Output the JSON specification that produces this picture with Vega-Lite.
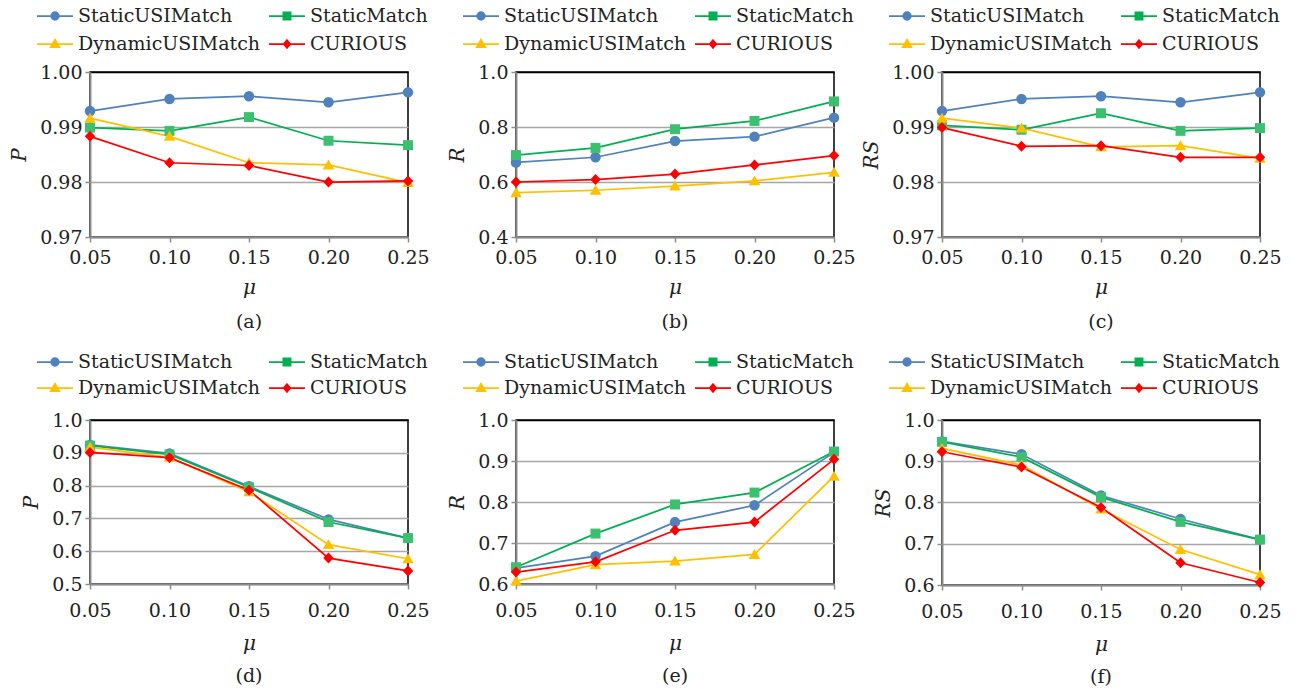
{
  "$schema": "https://vega.github.io/schema/vega-lite/v6.json",
  "background": "white",
  "padding": {"left": 8, "top": 4, "right": 5, "bottom": 5},
  "datasets": {
    "a": [
      {"mu": 0.05, "method": "StaticUSIMatch", "value": 0.9929}, {"mu": 0.10, "method": "StaticUSIMatch", "value": 0.9951}, {"mu": 0.15, "method": "StaticUSIMatch", "value": 0.9956}, {"mu": 0.20, "method": "StaticUSIMatch", "value": 0.9945}, {"mu": 0.25, "method": "StaticUSIMatch", "value": 0.9963},
      {"mu": 0.05, "method": "StaticMatch", "value": 0.9899}, {"mu": 0.10, "method": "StaticMatch", "value": 0.9893}, {"mu": 0.15, "method": "StaticMatch", "value": 0.9918}, {"mu": 0.20, "method": "StaticMatch", "value": 0.9875}, {"mu": 0.25, "method": "StaticMatch", "value": 0.9867},
      {"mu": 0.05, "method": "DynamicUSIMatch", "value": 0.9916}, {"mu": 0.10, "method": "DynamicUSIMatch", "value": 0.9883}, {"mu": 0.15, "method": "DynamicUSIMatch", "value": 0.9835}, {"mu": 0.20, "method": "DynamicUSIMatch", "value": 0.9831}, {"mu": 0.25, "method": "DynamicUSIMatch", "value": 0.9799},
      {"mu": 0.05, "method": "CURIOUS", "value": 0.9883}, {"mu": 0.10, "method": "CURIOUS", "value": 0.9835}, {"mu": 0.15, "method": "CURIOUS", "value": 0.9830}, {"mu": 0.20, "method": "CURIOUS", "value": 0.9800}, {"mu": 0.25, "method": "CURIOUS", "value": 0.9802}
    ],
    "b": [
      {"mu": 0.05, "method": "StaticUSIMatch", "value": 0.671}, {"mu": 0.10, "method": "StaticUSIMatch", "value": 0.690}, {"mu": 0.15, "method": "StaticUSIMatch", "value": 0.749}, {"mu": 0.20, "method": "StaticUSIMatch", "value": 0.765}, {"mu": 0.25, "method": "StaticUSIMatch", "value": 0.834},
      {"mu": 0.05, "method": "StaticMatch", "value": 0.698}, {"mu": 0.10, "method": "StaticMatch", "value": 0.724}, {"mu": 0.15, "method": "StaticMatch", "value": 0.792}, {"mu": 0.20, "method": "StaticMatch", "value": 0.822}, {"mu": 0.25, "method": "StaticMatch", "value": 0.893},
      {"mu": 0.05, "method": "DynamicUSIMatch", "value": 0.561}, {"mu": 0.10, "method": "DynamicUSIMatch", "value": 0.570}, {"mu": 0.15, "method": "DynamicUSIMatch", "value": 0.585}, {"mu": 0.20, "method": "DynamicUSIMatch", "value": 0.604}, {"mu": 0.25, "method": "DynamicUSIMatch", "value": 0.635},
      {"mu": 0.05, "method": "CURIOUS", "value": 0.600}, {"mu": 0.10, "method": "CURIOUS", "value": 0.609}, {"mu": 0.15, "method": "CURIOUS", "value": 0.629}, {"mu": 0.20, "method": "CURIOUS", "value": 0.662}, {"mu": 0.25, "method": "CURIOUS", "value": 0.696}
    ],
    "c": [
      {"mu": 0.05, "method": "StaticUSIMatch", "value": 0.9929}, {"mu": 0.10, "method": "StaticUSIMatch", "value": 0.9951}, {"mu": 0.15, "method": "StaticUSIMatch", "value": 0.9956}, {"mu": 0.20, "method": "StaticUSIMatch", "value": 0.9945}, {"mu": 0.25, "method": "StaticUSIMatch", "value": 0.9963},
      {"mu": 0.05, "method": "StaticMatch", "value": 0.9903}, {"mu": 0.10, "method": "StaticMatch", "value": 0.9895}, {"mu": 0.15, "method": "StaticMatch", "value": 0.9925}, {"mu": 0.20, "method": "StaticMatch", "value": 0.9893}, {"mu": 0.25, "method": "StaticMatch", "value": 0.9898},
      {"mu": 0.05, "method": "DynamicUSIMatch", "value": 0.9916}, {"mu": 0.10, "method": "DynamicUSIMatch", "value": 0.9898}, {"mu": 0.15, "method": "DynamicUSIMatch", "value": 0.9864}, {"mu": 0.20, "method": "DynamicUSIMatch", "value": 0.9866}, {"mu": 0.25, "method": "DynamicUSIMatch", "value": 0.9843},
      {"mu": 0.05, "method": "CURIOUS", "value": 0.9899}, {"mu": 0.10, "method": "CURIOUS", "value": 0.9865}, {"mu": 0.15, "method": "CURIOUS", "value": 0.9866}, {"mu": 0.20, "method": "CURIOUS", "value": 0.9845}, {"mu": 0.25, "method": "CURIOUS", "value": 0.9845}
    ],
    "d": [
      {"mu": 0.05, "method": "StaticUSIMatch", "value": 0.924}, {"mu": 0.10, "method": "StaticUSIMatch", "value": 0.898}, {"mu": 0.15, "method": "StaticUSIMatch", "value": 0.798}, {"mu": 0.20, "method": "StaticUSIMatch", "value": 0.697}, {"mu": 0.25, "method": "StaticUSIMatch", "value": 0.640},
      {"mu": 0.05, "method": "StaticMatch", "value": 0.922}, {"mu": 0.10, "method": "StaticMatch", "value": 0.895}, {"mu": 0.15, "method": "StaticMatch", "value": 0.795}, {"mu": 0.20, "method": "StaticMatch", "value": 0.689}, {"mu": 0.25, "method": "StaticMatch", "value": 0.640},
      {"mu": 0.05, "method": "DynamicUSIMatch", "value": 0.917}, {"mu": 0.10, "method": "DynamicUSIMatch", "value": 0.886}, {"mu": 0.15, "method": "DynamicUSIMatch", "value": 0.781}, {"mu": 0.20, "method": "DynamicUSIMatch", "value": 0.620}, {"mu": 0.25, "method": "DynamicUSIMatch", "value": 0.577},
      {"mu": 0.05, "method": "CURIOUS", "value": 0.901}, {"mu": 0.10, "method": "CURIOUS", "value": 0.885}, {"mu": 0.15, "method": "CURIOUS", "value": 0.786}, {"mu": 0.20, "method": "CURIOUS", "value": 0.579}, {"mu": 0.25, "method": "CURIOUS", "value": 0.540}
    ],
    "e": [
      {"mu": 0.05, "method": "StaticUSIMatch", "value": 0.639}, {"mu": 0.10, "method": "StaticUSIMatch", "value": 0.668}, {"mu": 0.15, "method": "StaticUSIMatch", "value": 0.751}, {"mu": 0.20, "method": "StaticUSIMatch", "value": 0.792}, {"mu": 0.25, "method": "StaticUSIMatch", "value": 0.921},
      {"mu": 0.05, "method": "StaticMatch", "value": 0.641}, {"mu": 0.10, "method": "StaticMatch", "value": 0.723}, {"mu": 0.15, "method": "StaticMatch", "value": 0.794}, {"mu": 0.20, "method": "StaticMatch", "value": 0.823}, {"mu": 0.25, "method": "StaticMatch", "value": 0.923},
      {"mu": 0.05, "method": "DynamicUSIMatch", "value": 0.607}, {"mu": 0.10, "method": "DynamicUSIMatch", "value": 0.647}, {"mu": 0.15, "method": "DynamicUSIMatch", "value": 0.656}, {"mu": 0.20, "method": "DynamicUSIMatch", "value": 0.672}, {"mu": 0.25, "method": "DynamicUSIMatch", "value": 0.863},
      {"mu": 0.05, "method": "CURIOUS", "value": 0.629}, {"mu": 0.10, "method": "CURIOUS", "value": 0.654}, {"mu": 0.15, "method": "CURIOUS", "value": 0.731}, {"mu": 0.20, "method": "CURIOUS", "value": 0.751}, {"mu": 0.25, "method": "CURIOUS", "value": 0.904}
    ],
    "f": [
      {"mu": 0.05, "method": "StaticUSIMatch", "value": 0.948}, {"mu": 0.10, "method": "StaticUSIMatch", "value": 0.917}, {"mu": 0.15, "method": "StaticUSIMatch", "value": 0.817}, {"mu": 0.20, "method": "StaticUSIMatch", "value": 0.760}, {"mu": 0.25, "method": "StaticUSIMatch", "value": 0.710},
      {"mu": 0.05, "method": "StaticMatch", "value": 0.947}, {"mu": 0.10, "method": "StaticMatch", "value": 0.910}, {"mu": 0.15, "method": "StaticMatch", "value": 0.813}, {"mu": 0.20, "method": "StaticMatch", "value": 0.753}, {"mu": 0.25, "method": "StaticMatch", "value": 0.710},
      {"mu": 0.05, "method": "DynamicUSIMatch", "value": 0.931}, {"mu": 0.10, "method": "DynamicUSIMatch", "value": 0.891}, {"mu": 0.15, "method": "DynamicUSIMatch", "value": 0.784}, {"mu": 0.20, "method": "DynamicUSIMatch", "value": 0.686}, {"mu": 0.25, "method": "DynamicUSIMatch", "value": 0.625},
      {"mu": 0.05, "method": "CURIOUS", "value": 0.923}, {"mu": 0.10, "method": "CURIOUS", "value": 0.886}, {"mu": 0.15, "method": "CURIOUS", "value": 0.788}, {"mu": 0.20, "method": "CURIOUS", "value": 0.654}, {"mu": 0.25, "method": "CURIOUS", "value": 0.606}
    ]
  },
  "columns": 3,
  "bounds": "flush",
  "spacing": {"row": 183, "column": 108},
  "resolve": {
    "scale": {"x": "independent", "y": "independent", "color": "independent", "fill": "independent", "stroke": "independent", "shape": "independent"},
    "legend": {"color": "independent", "fill": "independent", "stroke": "independent", "shape": "independent"}
  },
  "concat": [
    {
      "width": 318, "height": 165,
      "data": {"name": "a"},
      "title": {"text": "(a)"},
      "resolve": {"scale": {"color": "independent", "fill": "independent", "stroke": "independent", "shape": "independent"}},
      "layer": [
        {"mark": {"type": "line", "strokeWidth": 1.75},
         "encoding": {
           "x": {"field": "mu", "type": "quantitative", "scale": {"domain": [0.05, 0.25], "nice": false, "zero": false}, "axis": {"title": "μ", "values": [0.05, 0.1, 0.15, 0.2, 0.25], "format": ".2f", "grid": false}},
           "y": {"field": "value", "type": "quantitative", "scale": {"domain": [0.97, 1.0], "nice": false, "zero": false}, "axis": {"title": "P", "values": [0.97, 0.98, 0.99, 1.0], "format": ".2f"}},
           "color": {"field": "method", "type": "nominal", "scale": {"domain": ["CURIOUS", "DynamicUSIMatch", "StaticMatch", "StaticUSIMatch"], "range": ["#FF0000", "#FFC000", "#00B050", "#4F81BD"]}, "legend": null}
         }},
        {"mark": {"type": "point", "filled": true, "size": 110, "opacity": 1},
         "encoding": {
           "x": {"field": "mu", "type": "quantitative"},
           "y": {"field": "value", "type": "quantitative"},
           "fill": {"field": "method", "type": "nominal", "scale": {"domain": ["CURIOUS", "DynamicUSIMatch", "StaticMatch", "StaticUSIMatch"], "range": ["#FF0000", "#FFC000", "#3CC070", "#4F81BD"]}, "legend": null},
           "shape": {"field": "method", "type": "nominal", "scale": {"domain": ["CURIOUS", "DynamicUSIMatch", "StaticMatch", "StaticUSIMatch"], "range": ["M0,-1.05L1,0L0,1.05L-1,0Z", "M0,-1.05L1.1,0.85L-1.1,0.85Z", "M-0.95,-0.95H0.95V0.95H-0.95Z", "circle"]}, "legend": null}
         }},
        {"mark": {"type": "point", "filled": true, "opacity": 0, "strokeWidth": 1.75},
         "encoding": {
           "x": {"field": "mu", "type": "quantitative"},
           "y": {"field": "value", "type": "quantitative"},
           "shape": {"field": "method", "type": "nominal", "scale": {"domain": ["StaticUSIMatch", "StaticMatch", "DynamicUSIMatch", "CURIOUS"], "range": ["M-1.8,0H1.8M-0.38,0A0.38,0.38,0,1,1,0.38,0A0.38,0.38,0,1,1,-0.38,0Z", "M-1.8,0H1.8M-0.36,-0.36H0.36V0.36H-0.36Z", "M-1.8,0H1.8M0,-0.42L0.42,0.3L-0.42,0.3Z", "M-1.8,0H1.8M0,-0.38L0.32,0L0,0.38L-0.32,0Z"]}, "legend": {"title": null}},
           "fill": {"field": "method", "type": "nominal", "scale": {"domain": ["StaticUSIMatch", "StaticMatch", "DynamicUSIMatch", "CURIOUS"], "range": ["#4F81BD", "#00B050", "#FFC000", "#FF0000"]}, "legend": {"title": null}},
           "stroke": {"field": "method", "type": "nominal", "scale": {"domain": ["StaticUSIMatch", "StaticMatch", "DynamicUSIMatch", "CURIOUS"], "range": ["#4F81BD", "#00B050", "#FFC000", "#FF0000"]}, "legend": {"title": null}}
         }}
      ]
    },
    {
      "width": 318, "height": 165,
      "data": {"name": "b"},
      "title": {"text": "(b)"},
      "resolve": {"scale": {"color": "independent", "fill": "independent", "stroke": "independent", "shape": "independent"}},
      "layer": [
        {"mark": {"type": "line", "strokeWidth": 1.75},
         "encoding": {
           "x": {"field": "mu", "type": "quantitative", "scale": {"domain": [0.05, 0.25], "nice": false, "zero": false}, "axis": {"title": "μ", "values": [0.05, 0.1, 0.15, 0.2, 0.25], "format": ".2f", "grid": false}},
           "y": {"field": "value", "type": "quantitative", "scale": {"domain": [0.4, 1.0], "nice": false, "zero": false}, "axis": {"title": "R", "values": [0.4, 0.6, 0.8, 1.0], "format": ".1f"}},
           "color": {"field": "method", "type": "nominal", "scale": {"domain": ["CURIOUS", "DynamicUSIMatch", "StaticMatch", "StaticUSIMatch"], "range": ["#FF0000", "#FFC000", "#00B050", "#4F81BD"]}, "legend": null}
         }},
        {"mark": {"type": "point", "filled": true, "size": 110, "opacity": 1},
         "encoding": {
           "x": {"field": "mu", "type": "quantitative"},
           "y": {"field": "value", "type": "quantitative"},
           "fill": {"field": "method", "type": "nominal", "scale": {"domain": ["CURIOUS", "DynamicUSIMatch", "StaticMatch", "StaticUSIMatch"], "range": ["#FF0000", "#FFC000", "#3CC070", "#4F81BD"]}, "legend": null},
           "shape": {"field": "method", "type": "nominal", "scale": {"domain": ["CURIOUS", "DynamicUSIMatch", "StaticMatch", "StaticUSIMatch"], "range": ["M0,-1.05L1,0L0,1.05L-1,0Z", "M0,-1.05L1.1,0.85L-1.1,0.85Z", "M-0.95,-0.95H0.95V0.95H-0.95Z", "circle"]}, "legend": null}
         }},
        {"mark": {"type": "point", "filled": true, "opacity": 0, "strokeWidth": 1.75},
         "encoding": {
           "x": {"field": "mu", "type": "quantitative"},
           "y": {"field": "value", "type": "quantitative"},
           "shape": {"field": "method", "type": "nominal", "scale": {"domain": ["StaticUSIMatch", "StaticMatch", "DynamicUSIMatch", "CURIOUS"], "range": ["M-1.8,0H1.8M-0.38,0A0.38,0.38,0,1,1,0.38,0A0.38,0.38,0,1,1,-0.38,0Z", "M-1.8,0H1.8M-0.36,-0.36H0.36V0.36H-0.36Z", "M-1.8,0H1.8M0,-0.42L0.42,0.3L-0.42,0.3Z", "M-1.8,0H1.8M0,-0.38L0.32,0L0,0.38L-0.32,0Z"]}, "legend": {"title": null}},
           "fill": {"field": "method", "type": "nominal", "scale": {"domain": ["StaticUSIMatch", "StaticMatch", "DynamicUSIMatch", "CURIOUS"], "range": ["#4F81BD", "#00B050", "#FFC000", "#FF0000"]}, "legend": {"title": null}},
           "stroke": {"field": "method", "type": "nominal", "scale": {"domain": ["StaticUSIMatch", "StaticMatch", "DynamicUSIMatch", "CURIOUS"], "range": ["#4F81BD", "#00B050", "#FFC000", "#FF0000"]}, "legend": {"title": null}}
         }}
      ]
    },
    {
      "width": 318, "height": 165,
      "data": {"name": "c"},
      "title": {"text": "(c)"},
      "resolve": {"scale": {"color": "independent", "fill": "independent", "stroke": "independent", "shape": "independent"}},
      "layer": [
        {"mark": {"type": "line", "strokeWidth": 1.75},
         "encoding": {
           "x": {"field": "mu", "type": "quantitative", "scale": {"domain": [0.05, 0.25], "nice": false, "zero": false}, "axis": {"title": "μ", "values": [0.05, 0.1, 0.15, 0.2, 0.25], "format": ".2f", "grid": false}},
           "y": {"field": "value", "type": "quantitative", "scale": {"domain": [0.97, 1.0], "nice": false, "zero": false}, "axis": {"title": "RS", "values": [0.97, 0.98, 0.99, 1.0], "format": ".2f"}},
           "color": {"field": "method", "type": "nominal", "scale": {"domain": ["CURIOUS", "DynamicUSIMatch", "StaticMatch", "StaticUSIMatch"], "range": ["#FF0000", "#FFC000", "#00B050", "#4F81BD"]}, "legend": null}
         }},
        {"mark": {"type": "point", "filled": true, "size": 110, "opacity": 1},
         "encoding": {
           "x": {"field": "mu", "type": "quantitative"},
           "y": {"field": "value", "type": "quantitative"},
           "fill": {"field": "method", "type": "nominal", "scale": {"domain": ["CURIOUS", "DynamicUSIMatch", "StaticMatch", "StaticUSIMatch"], "range": ["#FF0000", "#FFC000", "#3CC070", "#4F81BD"]}, "legend": null},
           "shape": {"field": "method", "type": "nominal", "scale": {"domain": ["CURIOUS", "DynamicUSIMatch", "StaticMatch", "StaticUSIMatch"], "range": ["M0,-1.05L1,0L0,1.05L-1,0Z", "M0,-1.05L1.1,0.85L-1.1,0.85Z", "M-0.95,-0.95H0.95V0.95H-0.95Z", "circle"]}, "legend": null}
         }},
        {"mark": {"type": "point", "filled": true, "opacity": 0, "strokeWidth": 1.75},
         "encoding": {
           "x": {"field": "mu", "type": "quantitative"},
           "y": {"field": "value", "type": "quantitative"},
           "shape": {"field": "method", "type": "nominal", "scale": {"domain": ["StaticUSIMatch", "StaticMatch", "DynamicUSIMatch", "CURIOUS"], "range": ["M-1.8,0H1.8M-0.38,0A0.38,0.38,0,1,1,0.38,0A0.38,0.38,0,1,1,-0.38,0Z", "M-1.8,0H1.8M-0.36,-0.36H0.36V0.36H-0.36Z", "M-1.8,0H1.8M0,-0.42L0.42,0.3L-0.42,0.3Z", "M-1.8,0H1.8M0,-0.38L0.32,0L0,0.38L-0.32,0Z"]}, "legend": {"title": null}},
           "fill": {"field": "method", "type": "nominal", "scale": {"domain": ["StaticUSIMatch", "StaticMatch", "DynamicUSIMatch", "CURIOUS"], "range": ["#4F81BD", "#00B050", "#FFC000", "#FF0000"]}, "legend": {"title": null}},
           "stroke": {"field": "method", "type": "nominal", "scale": {"domain": ["StaticUSIMatch", "StaticMatch", "DynamicUSIMatch", "CURIOUS"], "range": ["#4F81BD", "#00B050", "#FFC000", "#FF0000"]}, "legend": {"title": null}}
         }}
      ]
    },
    {
      "width": 318, "height": 164,
      "data": {"name": "d"},
      "title": {"text": "(d)", "offset": 14},
      "resolve": {"scale": {"color": "independent", "fill": "independent", "stroke": "independent", "shape": "independent"}},
      "layer": [
        {"mark": {"type": "line", "strokeWidth": 1.75},
         "encoding": {
           "x": {"field": "mu", "type": "quantitative", "scale": {"domain": [0.05, 0.25], "nice": false, "zero": false}, "axis": {"title": "μ", "values": [0.05, 0.1, 0.15, 0.2, 0.25], "format": ".2f", "grid": false, "labelPadding": 12, "titlePadding": 13}},
           "y": {"field": "value", "type": "quantitative", "scale": {"domain": [0.5, 1.0], "nice": false, "zero": false}, "axis": {"title": "P", "values": [0.5, 0.6, 0.7, 0.8, 0.9, 1.0], "format": ".1f"}},
           "color": {"field": "method", "type": "nominal", "scale": {"domain": ["CURIOUS", "DynamicUSIMatch", "StaticMatch", "StaticUSIMatch"], "range": ["#FF0000", "#FFC000", "#00B050", "#4F81BD"]}, "legend": null}
         }},
        {"mark": {"type": "point", "filled": true, "size": 110, "opacity": 1},
         "encoding": {
           "x": {"field": "mu", "type": "quantitative"},
           "y": {"field": "value", "type": "quantitative"},
           "fill": {"field": "method", "type": "nominal", "scale": {"domain": ["CURIOUS", "DynamicUSIMatch", "StaticMatch", "StaticUSIMatch"], "range": ["#FF0000", "#FFC000", "#3CC070", "#4F81BD"]}, "legend": null},
           "shape": {"field": "method", "type": "nominal", "scale": {"domain": ["CURIOUS", "DynamicUSIMatch", "StaticMatch", "StaticUSIMatch"], "range": ["M0,-1.05L1,0L0,1.05L-1,0Z", "M0,-1.05L1.1,0.85L-1.1,0.85Z", "M-0.95,-0.95H0.95V0.95H-0.95Z", "circle"]}, "legend": null}
         }},
        {"mark": {"type": "point", "filled": true, "opacity": 0, "strokeWidth": 1.75},
         "encoding": {
           "x": {"field": "mu", "type": "quantitative"},
           "y": {"field": "value", "type": "quantitative"},
           "shape": {"field": "method", "type": "nominal", "scale": {"domain": ["StaticUSIMatch", "StaticMatch", "DynamicUSIMatch", "CURIOUS"], "range": ["M-1.8,0H1.8M-0.38,0A0.38,0.38,0,1,1,0.38,0A0.38,0.38,0,1,1,-0.38,0Z", "M-1.8,0H1.8M-0.36,-0.36H0.36V0.36H-0.36Z", "M-1.8,0H1.8M0,-0.42L0.42,0.3L-0.42,0.3Z", "M-1.8,0H1.8M0,-0.38L0.32,0L0,0.38L-0.32,0Z"]}, "legend": {"title": null, "rowPadding": 5, "legendY": -69}},
           "fill": {"field": "method", "type": "nominal", "scale": {"domain": ["StaticUSIMatch", "StaticMatch", "DynamicUSIMatch", "CURIOUS"], "range": ["#4F81BD", "#00B050", "#FFC000", "#FF0000"]}, "legend": {"title": null, "rowPadding": 5, "legendY": -69}},
           "stroke": {"field": "method", "type": "nominal", "scale": {"domain": ["StaticUSIMatch", "StaticMatch", "DynamicUSIMatch", "CURIOUS"], "range": ["#4F81BD", "#00B050", "#FFC000", "#FF0000"]}, "legend": {"title": null, "rowPadding": 5, "legendY": -69}}
         }}
      ]
    },
    {
      "width": 318, "height": 164,
      "data": {"name": "e"},
      "title": {"text": "(e)", "offset": 14},
      "resolve": {"scale": {"color": "independent", "fill": "independent", "stroke": "independent", "shape": "independent"}},
      "layer": [
        {"mark": {"type": "line", "strokeWidth": 1.75},
         "encoding": {
           "x": {"field": "mu", "type": "quantitative", "scale": {"domain": [0.05, 0.25], "nice": false, "zero": false}, "axis": {"title": "μ", "values": [0.05, 0.1, 0.15, 0.2, 0.25], "format": ".2f", "grid": false, "labelPadding": 12, "titlePadding": 13}},
           "y": {"field": "value", "type": "quantitative", "scale": {"domain": [0.6, 1.0], "nice": false, "zero": false}, "axis": {"title": "R", "values": [0.6, 0.7, 0.8, 0.9, 1.0], "format": ".1f"}},
           "color": {"field": "method", "type": "nominal", "scale": {"domain": ["CURIOUS", "DynamicUSIMatch", "StaticMatch", "StaticUSIMatch"], "range": ["#FF0000", "#FFC000", "#00B050", "#4F81BD"]}, "legend": null}
         }},
        {"mark": {"type": "point", "filled": true, "size": 110, "opacity": 1},
         "encoding": {
           "x": {"field": "mu", "type": "quantitative"},
           "y": {"field": "value", "type": "quantitative"},
           "fill": {"field": "method", "type": "nominal", "scale": {"domain": ["CURIOUS", "DynamicUSIMatch", "StaticMatch", "StaticUSIMatch"], "range": ["#FF0000", "#FFC000", "#3CC070", "#4F81BD"]}, "legend": null},
           "shape": {"field": "method", "type": "nominal", "scale": {"domain": ["CURIOUS", "DynamicUSIMatch", "StaticMatch", "StaticUSIMatch"], "range": ["M0,-1.05L1,0L0,1.05L-1,0Z", "M0,-1.05L1.1,0.85L-1.1,0.85Z", "M-0.95,-0.95H0.95V0.95H-0.95Z", "circle"]}, "legend": null}
         }},
        {"mark": {"type": "point", "filled": true, "opacity": 0, "strokeWidth": 1.75},
         "encoding": {
           "x": {"field": "mu", "type": "quantitative"},
           "y": {"field": "value", "type": "quantitative"},
           "shape": {"field": "method", "type": "nominal", "scale": {"domain": ["StaticUSIMatch", "StaticMatch", "DynamicUSIMatch", "CURIOUS"], "range": ["M-1.8,0H1.8M-0.38,0A0.38,0.38,0,1,1,0.38,0A0.38,0.38,0,1,1,-0.38,0Z", "M-1.8,0H1.8M-0.36,-0.36H0.36V0.36H-0.36Z", "M-1.8,0H1.8M0,-0.42L0.42,0.3L-0.42,0.3Z", "M-1.8,0H1.8M0,-0.38L0.32,0L0,0.38L-0.32,0Z"]}, "legend": {"title": null, "rowPadding": 5, "legendY": -69}},
           "fill": {"field": "method", "type": "nominal", "scale": {"domain": ["StaticUSIMatch", "StaticMatch", "DynamicUSIMatch", "CURIOUS"], "range": ["#4F81BD", "#00B050", "#FFC000", "#FF0000"]}, "legend": {"title": null, "rowPadding": 5, "legendY": -69}},
           "stroke": {"field": "method", "type": "nominal", "scale": {"domain": ["StaticUSIMatch", "StaticMatch", "DynamicUSIMatch", "CURIOUS"], "range": ["#4F81BD", "#00B050", "#FFC000", "#FF0000"]}, "legend": {"title": null, "rowPadding": 5, "legendY": -69}}
         }}
      ]
    },
    {
      "width": 318, "height": 165,
      "data": {"name": "f"},
      "title": {"text": "(f)", "offset": 14},
      "resolve": {"scale": {"color": "independent", "fill": "independent", "stroke": "independent", "shape": "independent"}},
      "layer": [
        {"mark": {"type": "line", "strokeWidth": 1.75},
         "encoding": {
           "x": {"field": "mu", "type": "quantitative", "scale": {"domain": [0.05, 0.25], "nice": false, "zero": false}, "axis": {"title": "μ", "values": [0.05, 0.1, 0.15, 0.2, 0.25], "format": ".2f", "grid": false, "labelPadding": 12, "titlePadding": 13}},
           "y": {"field": "value", "type": "quantitative", "scale": {"domain": [0.6, 1.0], "nice": false, "zero": false}, "axis": {"title": "RS", "values": [0.6, 0.7, 0.8, 0.9, 1.0], "format": ".1f"}},
           "color": {"field": "method", "type": "nominal", "scale": {"domain": ["CURIOUS", "DynamicUSIMatch", "StaticMatch", "StaticUSIMatch"], "range": ["#FF0000", "#FFC000", "#00B050", "#4F81BD"]}, "legend": null}
         }},
        {"mark": {"type": "point", "filled": true, "size": 110, "opacity": 1},
         "encoding": {
           "x": {"field": "mu", "type": "quantitative"},
           "y": {"field": "value", "type": "quantitative"},
           "fill": {"field": "method", "type": "nominal", "scale": {"domain": ["CURIOUS", "DynamicUSIMatch", "StaticMatch", "StaticUSIMatch"], "range": ["#FF0000", "#FFC000", "#3CC070", "#4F81BD"]}, "legend": null},
           "shape": {"field": "method", "type": "nominal", "scale": {"domain": ["CURIOUS", "DynamicUSIMatch", "StaticMatch", "StaticUSIMatch"], "range": ["M0,-1.05L1,0L0,1.05L-1,0Z", "M0,-1.05L1.1,0.85L-1.1,0.85Z", "M-0.95,-0.95H0.95V0.95H-0.95Z", "circle"]}, "legend": null}
         }},
        {"mark": {"type": "point", "filled": true, "opacity": 0, "strokeWidth": 1.75},
         "encoding": {
           "x": {"field": "mu", "type": "quantitative"},
           "y": {"field": "value", "type": "quantitative"},
           "shape": {"field": "method", "type": "nominal", "scale": {"domain": ["StaticUSIMatch", "StaticMatch", "DynamicUSIMatch", "CURIOUS"], "range": ["M-1.8,0H1.8M-0.38,0A0.38,0.38,0,1,1,0.38,0A0.38,0.38,0,1,1,-0.38,0Z", "M-1.8,0H1.8M-0.36,-0.36H0.36V0.36H-0.36Z", "M-1.8,0H1.8M0,-0.42L0.42,0.3L-0.42,0.3Z", "M-1.8,0H1.8M0,-0.38L0.32,0L0,0.38L-0.32,0Z"]}, "legend": {"title": null, "rowPadding": 5, "legendY": -69}},
           "fill": {"field": "method", "type": "nominal", "scale": {"domain": ["StaticUSIMatch", "StaticMatch", "DynamicUSIMatch", "CURIOUS"], "range": ["#4F81BD", "#00B050", "#FFC000", "#FF0000"]}, "legend": {"title": null, "rowPadding": 5, "legendY": -69}},
           "stroke": {"field": "method", "type": "nominal", "scale": {"domain": ["StaticUSIMatch", "StaticMatch", "DynamicUSIMatch", "CURIOUS"], "range": ["#4F81BD", "#00B050", "#FFC000", "#FF0000"]}, "legend": {"title": null, "rowPadding": 5, "legendY": -69}}
         }}
      ]
    }
  ],
  "config": {
    "font": "DejaVu Serif",
    "view": {"stroke": "#000000", "strokeWidth": 1.5},
    "axis": {
      "labelFont": "DejaVu Serif", "labelFontSize": 19, "labelColor": "#222222",
      "titleFont": "DejaVu Serif", "titleFontSize": 20, "titleFontStyle": "italic", "titleFontWeight": "normal", "titleColor": "#222222",
      "domainColor": "#8c8c8c", "domainWidth": 2,
      "tickColor": "#8c8c8c", "tickWidth": 1.5, "tickSize": 5,
      "gridColor": {"condition": {"test": "datum.value >= 0.9999", "value": "#000000"}, "value": "#a6a6a6"},
      "gridWidth": 1.5, "tickCount": 12, "labelOverlap": false
    },
    "axisX": {"labelPadding": 6, "titlePadding": 10, "labelFlush": false},
    "axisY": {"labelPadding": 3, "titlePadding": 10},
    "legend": {
      "orient": "none", "legendX": -46, "legendY": -67,
      "direction": "horizontal", "columns": 2,
      "labelFont": "DejaVu Serif", "labelFontSize": 19, "labelColor": "#222222", "labelLimit": 400,
      "symbolSize": 400, "symbolStrokeWidth": 1.75, "symbolOpacity": 1, "labelOffset": 12,
      "rowPadding": 7, "columnPadding": 4, "padding": 0
    },
    "title": {"font": "DejaVu Serif", "fontSize": 19, "fontWeight": "normal", "color": "#222222", "orient": "bottom", "offset": 16}
  }
}
